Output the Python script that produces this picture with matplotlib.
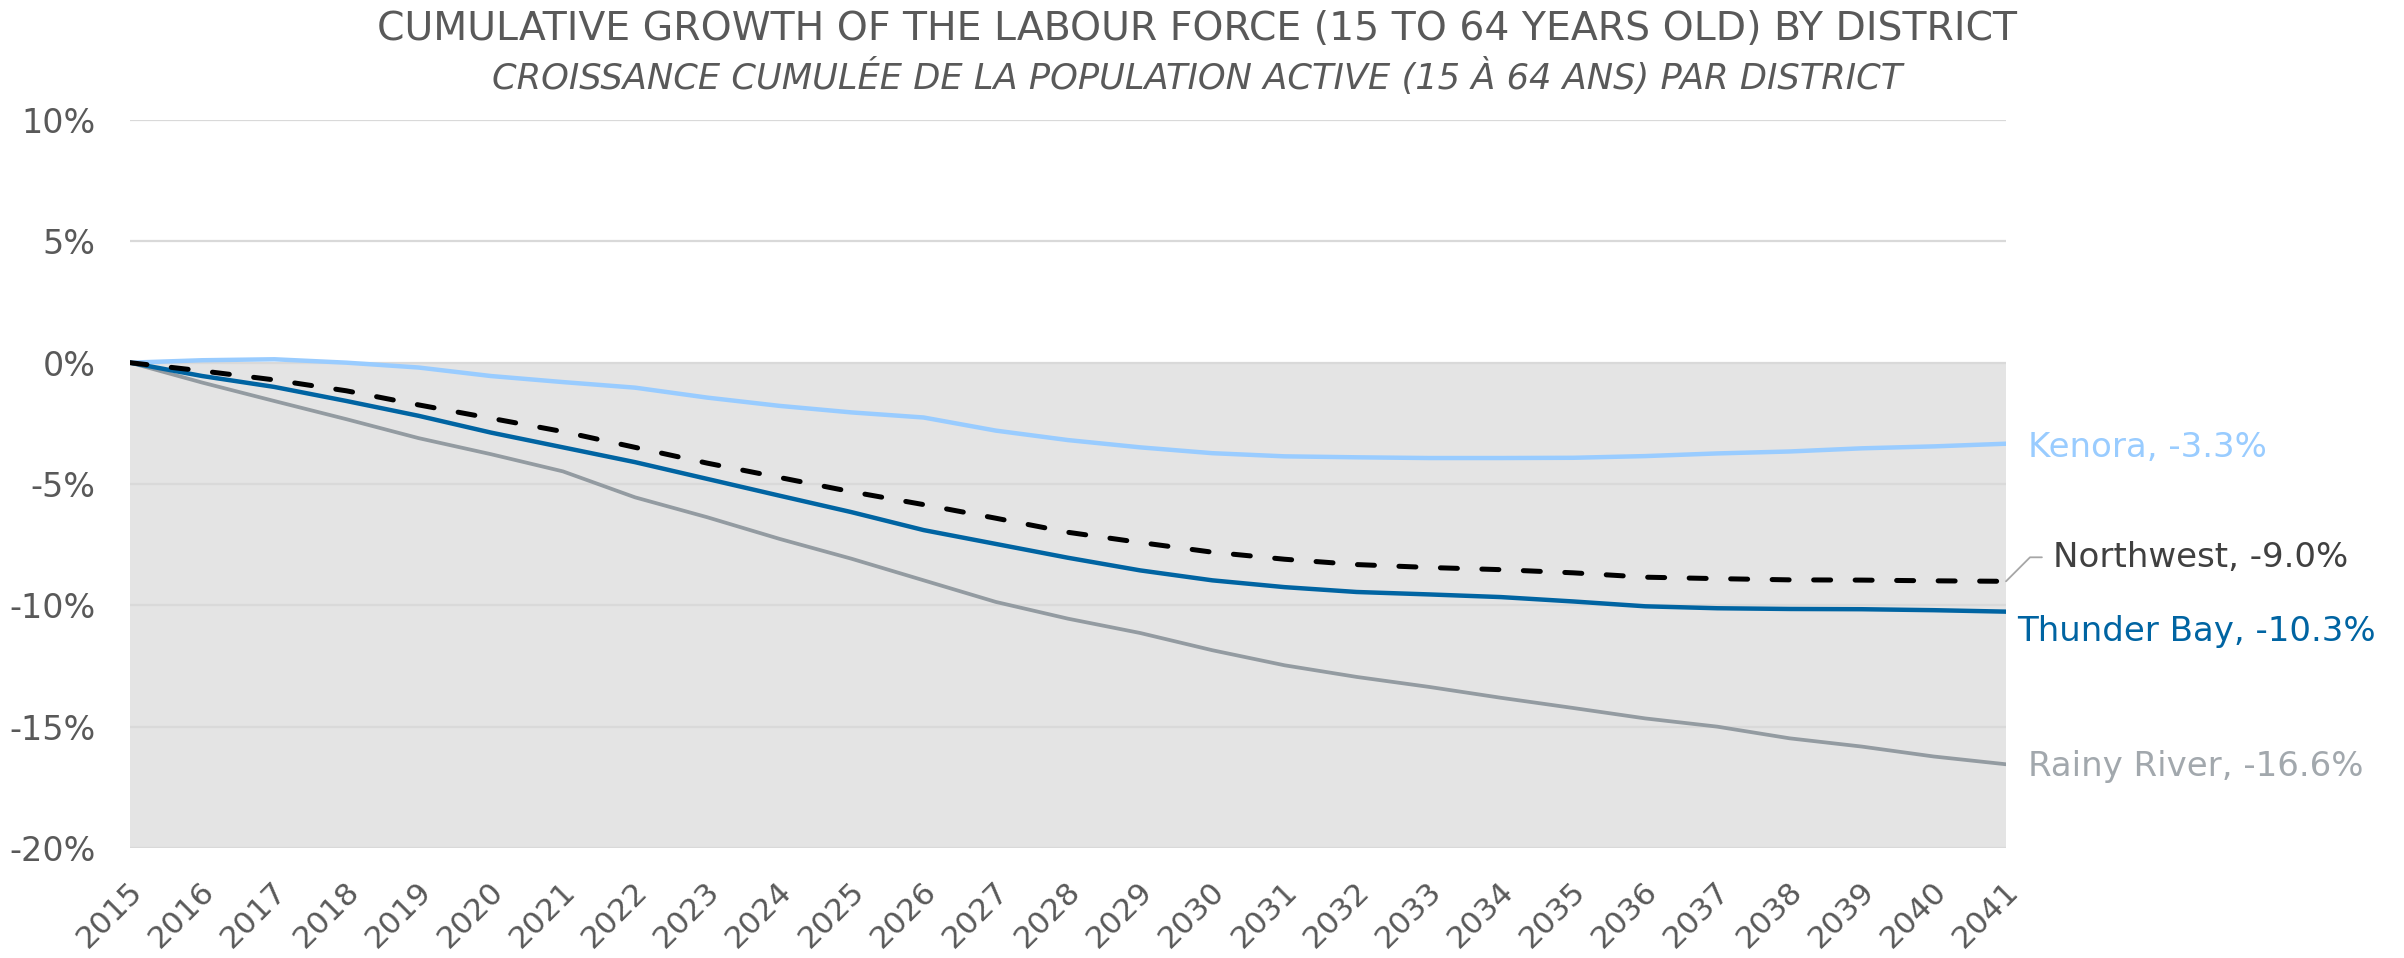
import matplotlib
matplotlib.use("Agg")
import matplotlib.pyplot as plt
import matplotlib.transforms as mtransforms
from matplotlib.ticker import FuncFormatter

# ---------------- data ----------------
years = list(range(2015, 2042))
kenora = [0.0, 0.10, 0.14, 0.0, -0.20, -0.55, -0.80, -1.03, -1.44, -1.78, -2.05, -2.26,
          -2.80, -3.19, -3.49, -3.73, -3.86, -3.90, -3.93, -3.93, -3.92, -3.85, -3.74,
          -3.66, -3.53, -3.45, -3.34]
thunder_bay = [0.0, -0.55, -1.00, -1.58, -2.19, -2.88, -3.49, -4.10, -4.79, -5.48, -6.16,
               -6.90, -7.47, -8.04, -8.56, -8.97, -9.25, -9.45, -9.55, -9.66, -9.84, -10.04,
               -10.12, -10.15, -10.16, -10.20, -10.26]
northwest = [0.0, -0.34, -0.71, -1.16, -1.74, -2.29, -2.84, -3.49, -4.14, -4.73, -5.32,
             -5.85, -6.41, -6.99, -7.41, -7.81, -8.10, -8.32, -8.44, -8.53, -8.66, -8.84,
             -8.90, -8.95, -8.96, -8.99, -9.01]
rainy_river = [0.0, -0.82, -1.58, -2.33, -3.11, -3.77, -4.48, -5.55, -6.37, -7.26, -8.08,
               -8.97, -9.86, -10.55, -11.14, -11.85, -12.47, -12.95, -13.36, -13.81, -14.23,
               -14.66, -15.00, -15.48, -15.82, -16.23, -16.55]
end_labels = ["Kenora, -3.3%", "Northwest, -9.0%", "Thunder Bay, -10.3%", "Rainy River, -16.6%"]
yticks = [10, 5, 0, -5, -10, -15, -20]
title = "CUMULATIVE GROWTH OF THE LABOUR FORCE (15 TO 64 YEARS OLD) BY DISTRICT"
subtitle = "CROISSANCE CUMULÉE DE LA POPULATION ACTIVE (15 À 64 ANS) PAR DISTRICT"

# ---------------- style ----------------
plt.rcParams['font.family'] = ['DejaVu Sans']
C_KEN = '#99CCFF'
C_TB = '#0064A2'
C_RR = '#939BA1'
C_RR_TXT = '#A2A8AD'
C_NW = '#000000'
C_NW_TXT = '#404040'
C_TXT = '#595959'

W, H = 2404, 958
fig = plt.figure(figsize=(W / 100, H / 100), dpi=100)
ax = fig.add_axes([130 / W, 1 - 848 / H, 1876 / W, 728 / H])

ax.set_xlim(years[0], years[-1])
ax.set_ylim(-20, 10)

ax.axhspan(-20, 0, color='#E4E4E4', zorder=0, lw=0)
ax.set_axisbelow(True)
ax.yaxis.grid(True, color='#D9D9D9', lw=1.6)
ax.xaxis.grid(False)
for s in ax.spines.values():
    s.set_visible(False)

ax.plot(years, rainy_river, color=C_RR, lw=2.7, solid_capstyle='round', zorder=3)
ax.plot(years, kenora, color=C_KEN, lw=3.2, solid_capstyle='round', zorder=3)
ax.plot(years, thunder_bay, color=C_TB, lw=3.2, solid_capstyle='round', zorder=4)
ax.plot(years, northwest, color=C_NW, lw=3.6, dashes=(3.4, 4.9),
        dash_capstyle='round', zorder=5)

ax.set_yticks(yticks)
ax.yaxis.set_major_formatter(FuncFormatter(lambda v, p: f"{v:.0f}%"))
ax.set_xticks(years)
ax.set_xticklabels([str(y) for y in years])
ax.tick_params(axis='y', length=0, pad=25, labelsize=24, labelcolor=C_TXT)
ax.tick_params(axis='x', length=0, pad=28, labelsize=22.5, labelcolor=C_TXT)
offset = mtransforms.ScaledTranslation(8 / 100, 0, fig.dpi_scale_trans)
for lab in ax.get_xticklabels():
    lab.set_rotation(45)
    lab.set_ha('right')
    lab.set_va('center')
    lab.set_rotation_mode('anchor')
    lab.set_transform(lab.get_transform() + offset)

lab_fs = 24.5
ax.annotate(end_labels[0], xy=(years[-1], kenora[-1]), xytext=(22, -4),
            textcoords='offset pixels', ha='left', va='center',
            fontsize=lab_fs, color=C_KEN, annotation_clip=False)
ax.annotate(end_labels[1], xy=(years[-1], northwest[-1]), xytext=(47, 24),
            textcoords='offset pixels', ha='left', va='center',
            fontsize=lab_fs, color=C_NW_TXT, annotation_clip=False,
            arrowprops=dict(arrowstyle='-', color='#A6A6A6', lw=1.3,
                            connectionstyle='angle,angleA=0,angleB=45,rad=0',
                            relpos=(0, 0.5), shrinkA=6, shrinkB=0))
ax.annotate(end_labels[2], xy=(years[-1], thunder_bay[-1]), xytext=(11, -20),
            textcoords='offset pixels', ha='left', va='center',
            fontsize=lab_fs, color=C_TB, annotation_clip=False)
ax.annotate(end_labels[3], xy=(years[-1], rainy_river[-1]), xytext=(22, -2),
            textcoords='offset pixels', ha='left', va='center',
            fontsize=lab_fs, color=C_RR_TXT, annotation_clip=False)

t1 = fig.text(1197 / W, 1 - 29 / H, title, ha='center', va='center',
              fontsize=26, color=C_TXT)
t2 = fig.text(1197 / W, 1 - 77 / H, subtitle, ha='center', va='center',
              fontsize=22, color=C_TXT, style='italic')

# fit title widths to the reference widths
fig.canvas.draw()
r = fig.canvas.get_renderer()
for t, target in ((t1, 1641), (t2, 1407)):
    bb = t.get_window_extent(r)
    t.set_fontsize(t.get_fontsize() * target / bb.width)

fig.savefig('out.png', dpi=100)
